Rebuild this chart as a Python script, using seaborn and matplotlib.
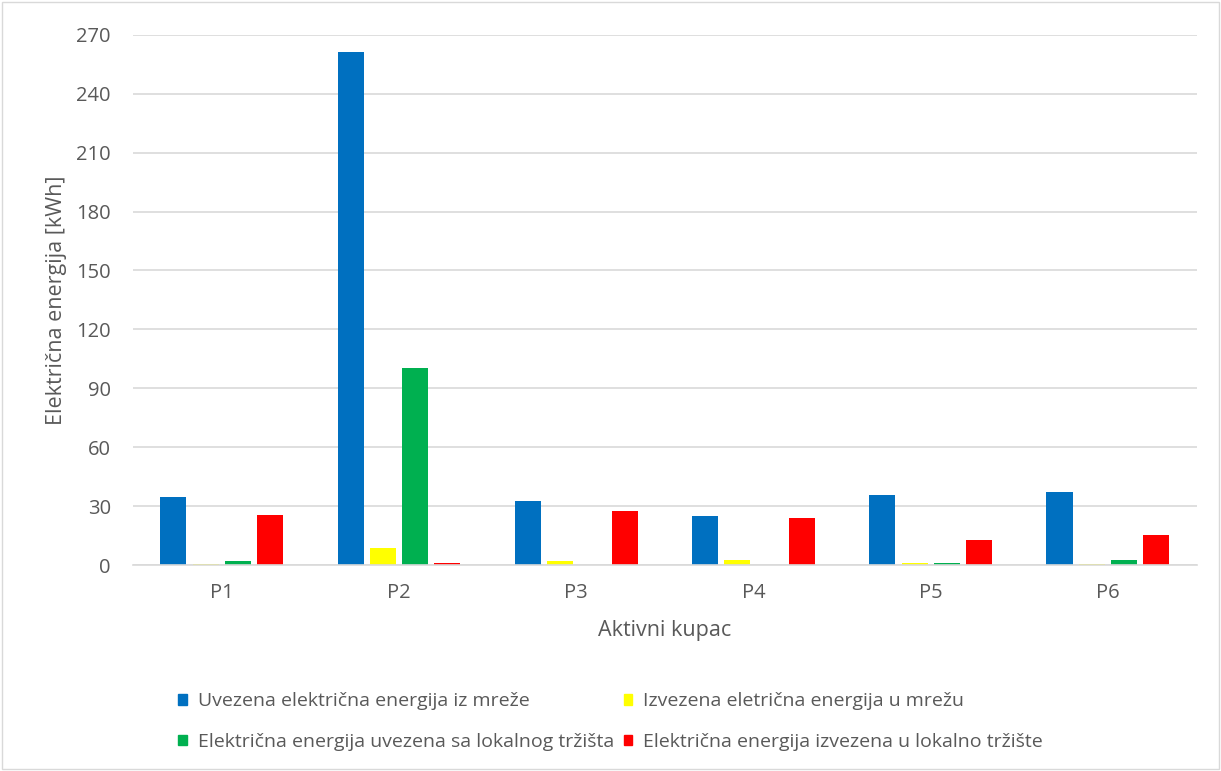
import matplotlib
matplotlib.use("Agg")
import matplotlib.pyplot as plt
import seaborn as sns
import pandas as pd
from matplotlib.patches import Rectangle

categories = ["P1", "P2", "P3", "P4", "P5", "P6"]
series_names = [
    "Uvezena električna energija iz mreže",
    "Izvezena eletrična energija u mrežu",
    "Električna energija uvezena sa lokalnog tržišta",
    "Električna energija izvezena u lokalno tržište",
]
uvezena_mreza = [34.5, 261.0, 32.8, 24.9, 35.5, 37.2]
izvezena_mreza = [0.8, 8.8, 2.0, 2.5, 1.2, 0.5]
uvezena_lokalno = [2.0, 100.5, 0.0, 0.0, 0.9, 2.6]
izvezena_lokalno = [25.5, 1.3, 27.8, 24.2, 12.6, 15.2]
colors = ["#0070C0", "#FFFF00", "#00B050", "#FF0000"]
yticks = list(range(0, 271, 30))

rows = []
for name, vals in zip(series_names, [uvezena_mreza, izvezena_mreza, uvezena_lokalno, izvezena_lokalno]):
    for c, v in zip(categories, vals):
        rows.append({"cat": c, "series": name, "val": v})
df = pd.DataFrame(rows)

sns.set_theme(style="white")
plt.rcParams["font.family"] = ["Open Sans", "DejaVu Sans"]
text_col = "#595959"

fig = plt.figure(figsize=(12.21, 7.71), dpi=100)
ax = fig.add_axes([0.109, 0.267, 0.871, 0.688])
sns.barplot(data=df, x="cat", y="val", hue="series", hue_order=series_names,
            palette=colors, width=0.729, gap=0.195, ax=ax, legend=False,
            saturation=1, edgecolor="none")
ax.set_ylim(0, 270)
ax.set_yticks(yticks)
ax.yaxis.grid(True, color="#D9D9D9", linewidth=1.2)
ax.set_axisbelow(True)
for s in ["top", "right", "left"]:
    ax.spines[s].set_visible(False)
ax.spines["bottom"].set_color("#D9D9D9")
ax.spines["bottom"].set_linewidth(1.2)
ax.tick_params(axis="y", length=0, labelsize=14.5, labelcolor=text_col, pad=16)
ax.tick_params(axis="x", length=0, labelsize=14.5, labelcolor=text_col, pad=13)
ax.set_xlabel("Aktivni kupac", fontsize=15.5, color=text_col, labelpad=12)
ax.set_ylabel("Električna energija [kWh]", fontsize=15.5, color=text_col, labelpad=7)

handles = [Rectangle((0, 0), 1, 1, color=c) for c in colors]
order = [0, 2, 1, 3]
fig.legend([handles[i] for i in order], [series_names[i] for i in order], ncol=2,
           loc="center", bbox_to_anchor=(0.5, 0.064),
           frameon=False, fontsize=14, labelcolor=text_col, handlelength=0.45,
           handleheight=0.45, handletextpad=0.55, columnspacing=0.5, labelspacing=1.15)

fig.patches.append(Rectangle((0.002, 0.002), 0.996, 0.996, transform=fig.transFigure,
                             fill=False, edgecolor="#D9D9D9", linewidth=1))
fig.savefig("out.png", dpi=100)
